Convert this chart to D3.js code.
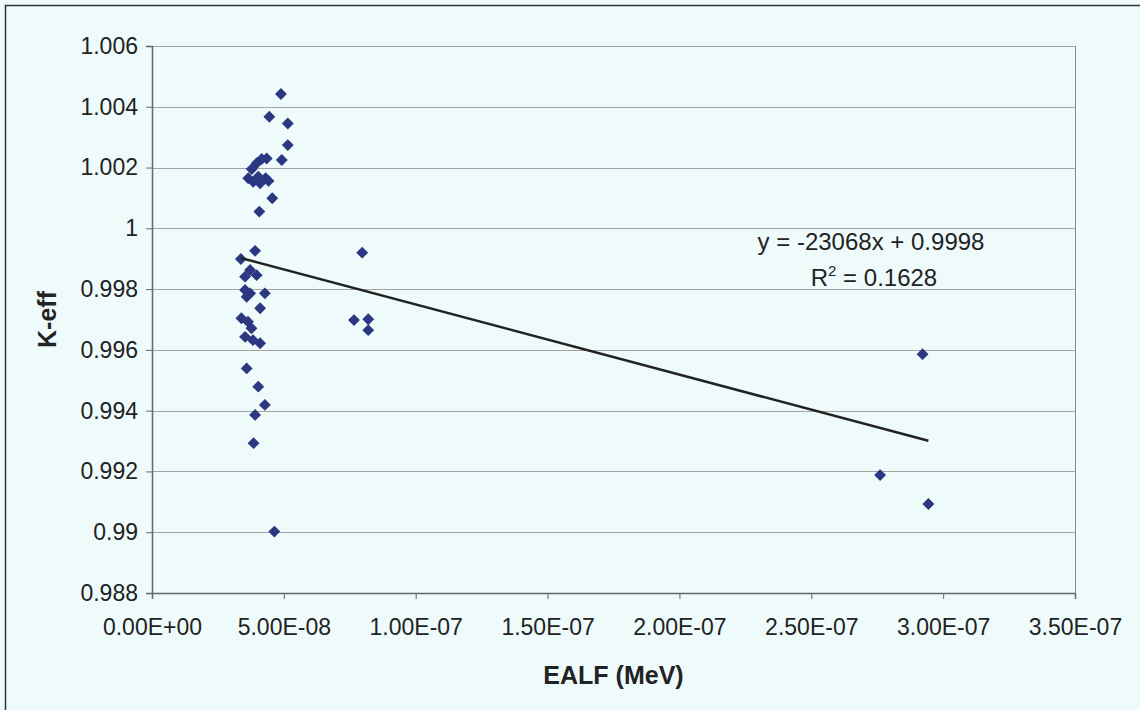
<!DOCTYPE html>
<html>
<head>
<meta charset="utf-8">
<script src="https://cdn.jsdelivr.net/npm/d3@7"></script>
<style>
  body { margin: 0; background: #effbfb; }
  svg { display: block; font-family: Arial, "Liberation Sans", sans-serif; }
</style>
</head>
<body>
<svg id="chart" width="1140" height="710"></svg>
<script>
// EALF (MeV) values
const ealf = [
  4.89e-8, 4.45e-8, 5.15e-8, 5.15e-8, 4.92e-8, 4.35e-8, 4.16e-8, 3.97e-8, 3.78e-8, 3.65e-8,
  3.84e-8, 4.10e-8, 4.31e-8, 4.03e-8, 4.42e-8, 4.56e-8, 4.07e-8, 3.91e-8, 3.37e-8, 3.72e-8,
  3.97e-8, 3.53e-8, 3.53e-8, 3.72e-8, 4.28e-8, 3.59e-8, 4.10e-8, 3.39e-8, 3.64e-8, 3.77e-8,
  3.53e-8, 3.83e-8, 4.10e-8, 3.59e-8, 4.03e-8, 4.28e-8, 3.91e-8, 3.85e-8, 4.64e-8, 7.97e-8,
  7.66e-8, 8.20e-8, 8.20e-8, 2.922e-7, 2.761e-7, 2.944e-7
];
// K-eff values
const keff = [
  1.00442, 1.00367, 1.00345, 1.00274, 1.00225, 1.00230, 1.00228, 1.00214, 1.00195, 1.00165,
  1.00153, 1.00148, 1.00165, 1.00170, 1.00156, 1.00099, 1.00055, 0.99926, 0.99899, 0.99863,
  0.99846, 0.99841, 0.99797, 0.99786, 0.99786, 0.99775, 0.99737, 0.99704, 0.99693, 0.99671,
  0.99643, 0.99632, 0.99622, 0.99539, 0.99479, 0.99419, 0.99386, 0.99293, 0.99002, 0.99920,
  0.99698, 0.99701, 0.99665, 0.99586, 0.99188, 0.99093
];
// linear trendline as printed on the chart
const slope = -23068;
const intercept = 0.9998;
const r2 = 0.1628;

const xTicks = [0, 5e-8, 1e-7, 1.5e-7, 2e-7, 2.5e-7, 3e-7, 3.5e-7];
const xTickLabels = ['0.00E+00', '5.00E-08', '1.00E-07', '1.50E-07', '2.00E-07', '2.50E-07', '3.00E-07', '3.50E-07'];
const yTicks = [0.988, 0.99, 0.992, 0.994, 0.996, 0.998, 1, 1.002, 1.004, 1.006];
const yTickLabels = ['0.988', '0.99', '0.992', '0.994', '0.996', '0.998', '1', '1.002', '1.004', '1.006'];

const data = ealf.map((x, i) => ({ x: x, y: keff[i] }));

const margin = { top: 46, right: 65, bottom: 117, left: 152 },
  width = 1140 - margin.left - margin.right,
  height = 710 - margin.top - margin.bottom;

const svg = d3.select('#chart');

// outer frame
svg.append('rect')
  .attr('x', 5.5).attr('y', 5.5)
  .attr('width', 1140).attr('height', 710)
  .attr('fill', 'none').attr('stroke', '#333').attr('stroke-width', 1.5);

const g = svg.append('g').attr('transform', `translate(${margin.left}, ${margin.top})`);

const x = d3.scaleLinear().domain([0, 3.5e-7]).range([0, width]);
const y = d3.scaleLinear().domain([0.988, 1.006]).range([height, 0]);

// gridlines
g.append('g')
  .selectAll('line')
  .data(yTicks.slice(1))
  .enter()
  .append('line')
  .attr('x1', 0).attr('x2', width)
  .attr('y1', d => Math.round(y(d)) + 0.5).attr('y2', d => Math.round(y(d)) + 0.5)
  .attr('stroke', '#a4a4a4').attr('stroke-width', 1);

// plot border (right side)
g.append('line')
  .attr('x1', width + 0.5).attr('x2', width + 0.5)
  .attr('y1', 0).attr('y2', height)
  .attr('stroke', '#8a8a8a');

// axes
const xAxis = g.append('g')
  .attr('transform', `translate(0, ${height})`)
  .call(d3.axisBottom(x).tickValues(xTicks).tickFormat((d, i) => xTickLabels[i]).tickSize(6).tickPadding(20));

const yAxis = g.append('g')
  .call(d3.axisLeft(y).tickValues(yTicks).tickFormat((d, i) => yTickLabels[i]).tickSize(6).tickPadding(8));

[xAxis, yAxis].forEach(a => {
  a.select('.domain').attr('stroke', '#666').attr('stroke-width', 1.5);
  a.selectAll('.tick line').attr('stroke', '#666');
  a.selectAll('text').attr('fill', '#222').style('font-size', '23px')
    .style('font-family', 'Arial, "Liberation Sans", sans-serif');
});

// markers
const diamond = d3.symbol().type(d3.symbolDiamond2).size(90);
g.selectAll('path.pt')
  .data(data)
  .enter()
  .append('path')
  .attr('class', 'pt')
  .attr('d', diamond)
  .attr('transform', d => `translate(${x(d.x)}, ${y(d.y)})`)
  .attr('fill', '#2b3780');

// trendline over the data range
const xMin = d3.min(ealf), xMax = d3.max(ealf);
g.append('line')
  .attr('x1', x(xMin)).attr('y1', y(slope * xMin + intercept))
  .attr('x2', x(xMax)).attr('y2', y(slope * xMax + intercept))
  .attr('stroke', '#222').attr('stroke-width', 2.5);

// equation labels
g.append('text')
  .attr('x', 871 - margin.left).attr('y', 250 - margin.top)
  .attr('text-anchor', 'middle')
  .style('font-size', '24px').attr('fill', '#222')
  .text(`y = ${slope}x + ${intercept}`);

const rt = g.append('text')
  .attr('x', 874 - margin.left).attr('y', 286 - margin.top)
  .attr('text-anchor', 'middle')
  .style('font-size', '24px').attr('fill', '#222');
rt.append('tspan').text('R');
rt.append('tspan').attr('dy', -10).style('font-size', '15px').text('2');
rt.append('tspan').attr('dy', 10).text(` = ${r2}`);

// axis titles
svg.append('text')
  .attr('x', margin.left + width / 2).attr('y', 684)
  .attr('text-anchor', 'middle')
  .style('font-size', '25px').style('font-weight', 'bold').attr('fill', '#222')
  .text('EALF (MeV)');

svg.append('text')
  .attr('transform', `translate(56, ${margin.top + height / 2}) rotate(-90)`)
  .attr('text-anchor', 'middle')
  .style('font-size', '25px').style('font-weight', 'bold').attr('fill', '#222')
  .text('K-eff');
</script>
</body>
</html>
